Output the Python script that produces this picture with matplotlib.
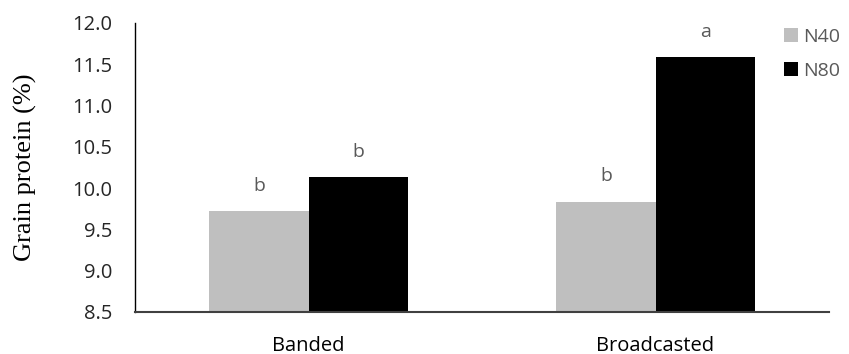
import matplotlib
matplotlib.use("Agg")
import matplotlib.pyplot as plt
import numpy as np

categories = ["Banded", "Broadcasted"]
series_names = ["N40", "N80"]
n40 = [9.72, 9.83]
n80 = [10.13, 11.59]
letters_n40 = ["b", "b"]
letters_n80 = ["b", "a"]
yticks = [8.5, 9.0, 9.5, 10.0, 10.5, 11.0, 11.5, 12.0]

fig = plt.figure(figsize=(8.49, 3.54), dpi=100)
ax = fig.add_axes([135/849, 42/354, (829-135)/849, (312-23)/354])

x = np.arange(len(categories))
w = 0.286
b1 = ax.bar(x - w/2, n40, w, bottom=0, color="#bfbfbf", label="N40")
b2 = ax.bar(x + w/2, n80, w, bottom=0, color="#000000", label="N80")

for xi, v, t in zip(x - w/2, n40, letters_n40):
    ax.annotate(t, (xi, v), xytext=(0, 18.5), textcoords="offset points",
                ha="center", va="center", fontsize=14, color="#595959", family="Open Sans")
for xi, v, t in zip(x + w/2, n80, letters_n80):
    ax.annotate(t, (xi, v), xytext=(0, 18), textcoords="offset points",
                ha="center", va="center", fontsize=14, color="#595959", family="Open Sans")

ax.set_xlim(-0.5, 1.5)
ax.set_ylim(8.5, 12.0)
ax.set_yticks(yticks)
ax.set_yticklabels([f"{v:.1f}" for v in yticks], fontsize=14.5, family="Open Sans", color="#262626")
ax.set_xticks(x)
ax.set_xticklabels(categories, fontsize=14.5, family="Open Sans", color="#000000")
ax.tick_params(axis="y", length=0, pad=16.5)
ax.tick_params(axis="x", length=0, pad=17)
for s in ["top", "right"]:
    ax.spines[s].set_visible(False)
ax.spines["left"].set_color("#000000")
ax.spines["left"].set_linewidth(1.0)
ax.spines["bottom"].set_color("#404040")
ax.spines["bottom"].set_linewidth(1.5)

ax.set_ylabel("Grain protein (%)", fontsize=19, family="Liberation Serif")
ax.yaxis.set_label_coords(-(135-37)/(829-135), 0.5)

leg = fig.legend(handles=[b1, b2], labels=series_names, loc="upper left",
                 bbox_to_anchor=(784/849, 1 - 28/354), frameon=False,
                 prop={"family": "Open Sans", "size": 14},
                 handlelength=0.7, handleheight=0.7, handletextpad=0.3,
                 labelspacing=0.8, borderpad=0, borderaxespad=0)
for t in leg.get_texts():
    t.set_color("#595959")

fig.savefig("out.png", dpi=100)
